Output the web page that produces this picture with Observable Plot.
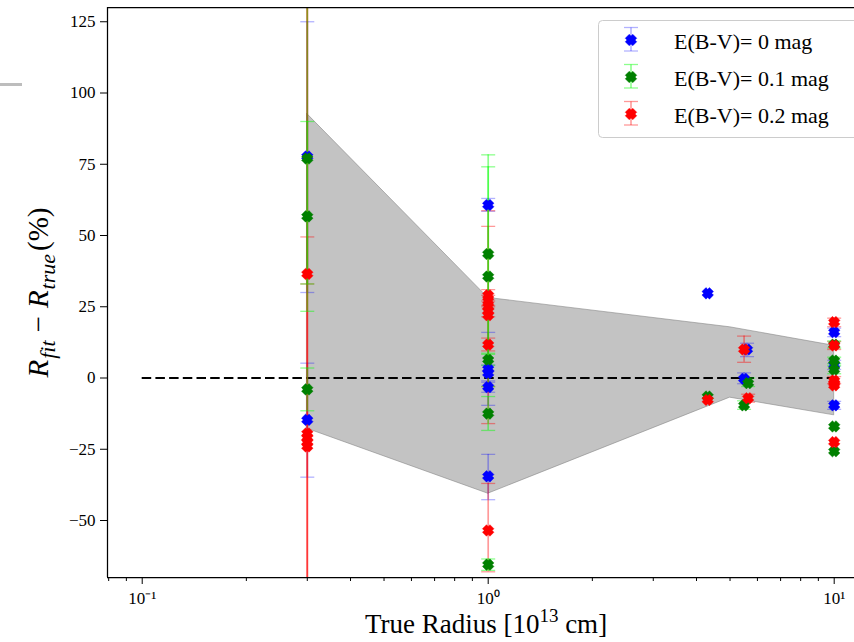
<!DOCTYPE html>
<html><head><meta charset="utf-8">
<script src="https://cdn.jsdelivr.net/npm/d3@7"></script>
<script src="https://cdn.jsdelivr.net/npm/@observablehq/plot@0.6"></script>
<style>
body{margin:0;background:#fff;}
#wrap{position:relative;width:854px;height:642px;overflow:hidden;background:#fff;}
#artifact{position:absolute;left:0;top:83px;width:22px;height:3px;background:#bdbdbd;}
</style></head><body><div id="wrap"><div id="artifact"></div></div>
<script>
// ---- data ----
const legendLabels = ["E(B-V)= 0 mag", "E(B-V)= 0.1 mag", "E(B-V)= 0.2 mag"];
const markerColors = ["#0000ff", "#008000", "#ff0000"];
const barColors = ["#0000ff", "#00ff00", "#ff0000"];
const barOpacity = [0.3, 0.45, 0.4];

// E(B-V)=0
const blueX  = [0.3, 0.3, 1, 1, 1, 1, 1, 4.31, 5.6, 5.49, 10, 10, 10];
const blueY  = [77.7, -14.7, 60.7, 3.2, 1.7, -3.2, -34.5, 29.7, 10, -0.3, 16.1, 4.6, -9.6];
const blueLo = [30, -34.8, 58.5, -9.6, -1, -5, -42.7, null, 7.5, -2, 14.5, 3, -11];
const blueHi = [125, 5.2, 63, 16, 4.5, -1.5, -26.8, null, 12.2, 1.8, 17.5, 6.2, -8.2];

// E(B-V)=0.1
const greenX  = [0.3, 0.3, 0.3, 1, 1, 1, 1, 1, 4.31, 5.64, 5.49, 10, 10, 10, 10, 10];
const greenY  = [77, 56.7, -4, 43.5, 35.6, 6.4, -12.5, -65.5, -6.5, -1.8, -9.6, 11.7, 6.1, 2.9, -17, -25.7];
const greenLo = [33, 23.4, -11.5, 8.7, -3, 4.5, -18.4, -67.5, null, -3, -11, 10.5, 5, 1.5, null, null];
const greenHi = [300, 90, 3.5, 78.3, 74.1, 8.3, -6.5, -63.5, null, 0, -8, 13, 7.3, 4.3, null, null];

// E(B-V)=0.2
const redX  = [0.3, 0.3, 0.3, 0.3, 0.3, 1, 1, 1, 1, 1, 1, 1, 4.31, 5.49, 5.64, 10, 10, 10, 10, 10, 10];
const redY  = [36.5, -19.5, -21, -22.5, -24, 29, 27, 25, 23.5, 22, 11.7, -53.5, -7.7, 10, -7.1, 19.6, 11.4, -0.9, -1.8, -2.6, -22.5];
const redLo = [33, -300, -300, -300, null, 27, 25, -3, 21.5, -16, 9.5, -68, null, 5.5, -8.5, 18, 10, -2, null, null, null];
const redHi = [49.5, 300, 300, 300, null, 31, 29, 53.2, 25.5, 58.7, 14, -37, null, 14.7, -5.7, 21, 12.8, 0.5, null, null, null];

// shaded band
const bandX  = [0.3, 1, 5, 10];
const bandHi = [92.6, 28.1, 17.8, 11.3];
const bandLo = [-17.8, -40.6, -6.9, -13.1];

const refLineX = [0.1, 10];
const yTicks = [-50, -25, 0, 25, 50, 75, 100, 125];
const xMajor = [0.1, 1, 10];
const xMajorLabels = ["10\u207B\u00B9", "10\u2070", "10\u00B9"];
const xMinor = [0.08, 0.09, 0.2, 0.3, 0.4, 0.5, 0.6, 0.7, 0.8, 0.9, 2, 3, 4, 5, 6, 7, 8, 9];
const xDomain = [Math.pow(10, -1.1003), Math.pow(10, 1.0587)];
const yDomain = [-70, 130];

// ---- symbols ----
// chunky filled "X" (like matplotlib's 'X' marker)
const xFilled = { draw(ctx, size) {
  const e = Math.sqrt(size / Math.PI), a = 0.3 * e, c = e - a;
  const pts = [[-a,-e],[0,-c],[a,-e],[e,-a],[c,0],[e,a],[a,e],[0,c],[-a,e],[-e,a],[-c,0],[-e,-a]];
  pts.forEach(([x,y], i) => i ? ctx.lineTo(x, y) : ctx.moveTo(x, y));
  ctx.closePath();
}};
const capSym = { draw(ctx, size) {
  const r = Math.sqrt(size / Math.PI);
  ctx.moveTo(-r, 0); ctx.lineTo(r, 0);
}};

const series = [
  {x: blueX, y: blueY, lo: blueLo, hi: blueHi},
  {x: greenX, y: greenY, lo: greenLo, hi: greenHi},
  {x: redX, y: redY, lo: redLo, hi: redHi}
].map((s, k) => {
  const rows = s.x.map((x, i) => ({x, y: s.y[i], lo: s.lo[i], hi: s.hi[i]}));
  return {k, rows, bars: rows.filter(r => r.lo != null)};
});

const band = bandX.map((x, i) => ({x, lo: bandLo[i], hi: bandHi[i]}));

// bars: blue, red, then green on top
const barOrder = [0, 2, 1];
const barMarks = barOrder.map(k => series[k]).flatMap(s => [
  Plot.ruleX(s.bars, {x: "x", y1: "lo", y2: "hi", stroke: barColors[s.k], strokeOpacity: barOpacity[s.k], strokeWidth: 1.7, clip: true}),
  Plot.dot(s.bars, {x: "x", y: "lo", symbol: capSym, r: 7, fill: "none", stroke: barColors[s.k], strokeOpacity: barOpacity[s.k], strokeWidth: 1.3, clip: true}),
  Plot.dot(s.bars, {x: "x", y: "hi", symbol: capSym, r: 7, fill: "none", stroke: barColors[s.k], strokeOpacity: barOpacity[s.k], strokeWidth: 1.3, clip: true})
]);
const markerMarks = series.map(s =>
  Plot.dot(s.rows, {x: "x", y: "y", symbol: xFilled, r: 5.8, fill: markerColors[s.k], stroke: markerColors[s.k], strokeOpacity: 0.5, strokeWidth: 0.8})
);

const fmtY = d => d < 0 ? "\u2212" + (-d) : String(d);

const chart = Plot.plot({
  width: 854, height: 642,
  marginLeft: 107, marginRight: 0, marginTop: 7, marginBottom: 65,
  x: {type: "log", domain: xDomain},
  y: {domain: yDomain},
  style: {fontFamily: "'Liberation Serif', serif", fontSize: "17px", background: "white", color: "black"},
  marks: [
    Plot.areaY(band, {x: "x", y1: "lo", y2: "hi", fill: "#808080", fillOpacity: 0.47, stroke: "#808080", strokeOpacity: 0.55, strokeWidth: 1}),
    Plot.ruleY([0], {x1: () => refLineX[0], x2: () => refLineX[1], stroke: "black", strokeWidth: 2.2, strokeDasharray: "9.5,4.2"}),
    ...barMarks,
    ...markerMarks,
    Plot.axisY({ticks: yTicks, tickSize: 7, tickPadding: 5, tickFormat: fmtY, label: null, fontSize: 17}),
    Plot.axisX({ticks: xMinor, tickSize: 4, tickFormat: () => "", label: null}),
    Plot.axisX({ticks: xMajor, tickSize: 7, tickPadding: 7, tickFormat: d => xMajorLabels[xMajor.indexOf(d)], label: null, fontSize: 17}),
    Plot.ruleY([yDomain[1]], {stroke: "black", strokeWidth: 1.25}),
    Plot.ruleY([yDomain[0]], {stroke: "black", strokeWidth: 1.25}),
    Plot.ruleX([xDomain[0]], {stroke: "black", strokeWidth: 1.25})
  ]
});
document.getElementById("wrap").appendChild(chart);

const svg = d3.select(chart);
const font = "'Liberation Serif', serif";

// y label (math-style, rotated)
const yl = svg.append("text")
  .attr("transform", "translate(48,292.5) rotate(-90)")
  .attr("text-anchor", "middle")
  .style("font-family", font).style("font-size", "29px").attr("fill", "black");
yl.append("tspan").style("font-style", "italic").text("R");
yl.append("tspan").style("font-style", "italic").style("font-size", "22px").attr("dy", 7).attr("dx", 1).text("fit");
yl.append("tspan").attr("dy", -7).attr("dx", 8).text("\u2212");
yl.append("tspan").style("font-style", "italic").attr("dx", 8).text("R");
yl.append("tspan").style("font-style", "italic").style("font-size", "22px").attr("dy", 7).attr("dx", 1).text("true");
yl.append("tspan").attr("dy", -7).attr("dx", 3).text("(%)");

// x label
const xl = svg.append("text")
  .attr("x", 486).attr("y", 633).attr("text-anchor", "middle")
  .style("font-family", font).style("font-size", "27px").attr("fill", "black");
xl.append("tspan").text("True Radius [10");
xl.append("tspan").style("font-size", "19px").attr("dy", -11).text("13");
xl.append("tspan").attr("dy", 11).text(" cm]");

// legend
const lg = svg.append("g").attr("text-anchor", "start");
lg.append("rect").attr("x", 598.5).attr("y", 20.5).attr("width", 280).attr("height", 117).attr("rx", 4)
  .attr("fill", "white").attr("fill-opacity", 0.8).attr("stroke", "#cccccc");
const xPath = d3.symbol(xFilled, 5.8 * 5.8 * Math.PI)();
legendLabels.forEach((lab, i) => {
  const cy = 40 + 37 * i, cx = 631;
  const g = lg.append("g");
  const c = barColors[i], o = barOpacity[i];
  g.append("line").attr("x1", cx).attr("x2", cx).attr("y1", cy - 12.5).attr("y2", cy + 11).attr("stroke", c).attr("stroke-opacity", o).attr("stroke-width", 1.6);
  [cy - 12.5, cy + 11].forEach(yy => g.append("line").attr("x1", cx - 7).attr("x2", cx + 7).attr("y1", yy).attr("y2", yy).attr("stroke", c).attr("stroke-opacity", o).attr("stroke-width", 1.3));
  g.append("path").attr("d", xPath).attr("transform", `translate(${cx},${cy})`).attr("fill", markerColors[i]).attr("stroke", markerColors[i]).attr("stroke-opacity", 0.5).attr("stroke-width", 0.8);
  g.append("text").attr("x", 674).attr("y", cy + 8.5).attr("text-anchor", "start").style("font-family", font).style("font-size", "22px").attr("fill", "black").text(lab);
});
</script></body></html>
